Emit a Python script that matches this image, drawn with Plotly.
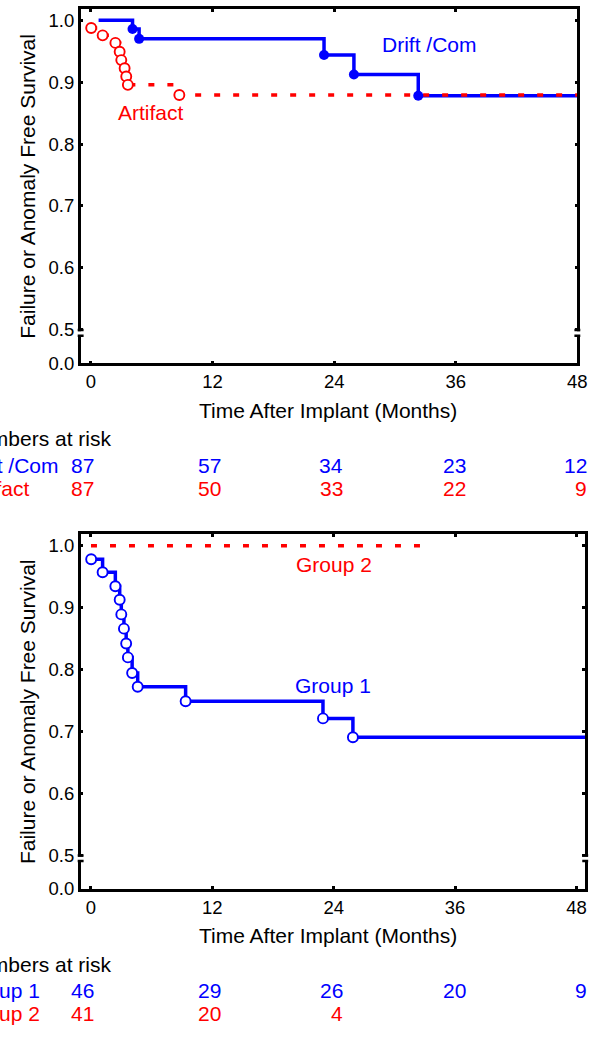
import plotly.graph_objects as go

W, H = 608, 1037
FONT = "Liberation Sans, Arial, Helvetica, sans-serif"
BLUE = "#0000FF"
RED = "#FF0000"

# ---------------- data ----------------
# Top panel: Drift /Com (solid blue, filled dots at events)
drift_start = 0.75
drift_event_t = [4.1, 4.75, 23.0, 25.95, 32.3]
drift_event_s = [0.986, 0.970, 0.944, 0.9125, 0.878]
# Top panel: Artifact (dotted red, open circles)
artifact_event_t = [0.02, 1.15, 2.41, 2.83, 2.99, 3.32, 3.48, 3.64, 8.72]
artifact_event_s = [0.9875, 0.9757, 0.9635, 0.9491, 0.9357, 0.9226, 0.9091, 0.8957, 0.8792]
top_end = 48.0

# Bottom panel: Group 1 (solid blue, open circles)
group1_event_t = [0.02, 1.15, 2.41, 2.84, 3.00, 3.26, 3.48, 3.65, 4.07, 4.62, 9.36, 22.94, 25.9]
group1_event_s = [0.978, 0.957, 0.9345, 0.9126, 0.889, 0.866, 0.842, 0.8195, 0.7944, 0.772, 0.7486, 0.721, 0.6906]
# Bottom panel: Group 2 (dotted red, no events)
group2_t = [0.0, 32.97]
group2_s = [1.0, 1.0]
bottom_end = 48.87

# Numbers at risk
risk_months = [0, 12, 24, 36, 48]
drift_risk = [87, 57, 34, 23, 12]
artifact_risk = [87, 50, 33, 22, 9]
group1_risk = [46, 29, 26, 20, 9]
group2_risk = [41, 20, 4]

x_ticks = [0, 12, 24, 36, 48]
y_tick_labels = ["0.0", "0.5", "0.6", "0.7", "0.8", "0.9", "1.0"]
y_tick_vals = [0.4456, 0.5, 0.6, 0.7, 0.8, 0.9, 1.0]   # 0.0 drawn below the axis break
y_range = [0.4456, 1.0184]

# ---------------- layout helpers ----------------
def px_x(p):
    return p / W

def px_y(p):
    return 1 - p / H

OFF = 530.5  # vertical offset of the second panel
panels = [
    dict(top=9, bottom=367, left=82, right=587, xr=[-1.02, 48.0]),
    dict(top=9 + OFF, bottom=367 + OFF, left=82, right=595, xr=[-1.02, 48.87]),
]

fig = go.Figure()

def step_line(t, s, end, xa, ya, color, dash, width=3.5):
    fig.add_trace(go.Scatter(
        x=list(t) + [end], y=list(s) + [s[-1]], mode="lines", line_shape="hv",
        line=dict(color=color, width=width, dash=dash),
        xaxis=xa, yaxis=ya, showlegend=False, hoverinfo="skip"))

def markers(t, s, xa, ya, color, filled):
    fig.add_trace(go.Scatter(
        x=t, y=s, mode="markers",
        marker=dict(size=10, color=color if filled else "white",
                    line=dict(color=color, width=0 if filled else 1.9), symbol="circle"),
        xaxis=xa, yaxis=ya, showlegend=False, hoverinfo="skip"))

# top panel
step_line([drift_start] + drift_event_t, [1.0] + drift_event_s, top_end, "x", "y", BLUE, "solid")
step_line(artifact_event_t, artifact_event_s, top_end, "x", "y", RED, "6px,13px")
markers(drift_event_t, drift_event_s, "x", "y", BLUE, True)
markers(artifact_event_t, artifact_event_s, "x", "y", RED, False)

# bottom panel
step_line(group1_event_t, group1_event_s, bottom_end, "x2", "y2", BLUE, "solid")
fig.add_trace(go.Scatter(x=group2_t, y=group2_s, mode="lines",
                         line=dict(color=RED, width=3.5, dash="6px,13px"),
                         xaxis="x2", yaxis="y2", showlegend=False, hoverinfo="skip"))
markers(group1_event_t, group1_event_s, "x2", "y2", BLUE, False)

axis_common = dict(showline=True, linewidth=2.5, linecolor="black", mirror="ticks",
                   ticks="inside", ticklen=3, tickwidth=2.5, tickcolor="black",
                   showgrid=False, zeroline=False,
                   tickfont=dict(family=FONT, size=18.5, color="black"))

layout = dict(width=W, height=H, margin=dict(l=0, r=0, t=0, b=0), autosize=False,
              paper_bgcolor="white", plot_bgcolor="white", showlegend=False)

shapes = []
annotations = []
for i, p in enumerate(panels):
    sfx = "" if i == 0 else str(i + 1)
    layout["xaxis" + sfx] = dict(axis_common, domain=[px_x(p["left"]), px_x(p["right"])],
                                 range=p["xr"], tickvals=x_ticks, anchor="y" + sfx)
    layout["yaxis" + sfx] = dict(axis_common, domain=[px_y(p["bottom"]), px_y(p["top"])],
                                 range=y_range, tickvals=y_tick_vals, ticktext=y_tick_labels,
                                 anchor="x" + sfx)
    # axis break marks at 0.5 on both vertical sides
    for xe in (p["left"], p["right"]):
        shapes.append(dict(type="rect", xref="paper", yref="y" + sfx,
                           x0=px_x(xe - 4), x1=px_x(xe + 4), y0=0.4915, y1=0.4975,
                           fillcolor="white", line=dict(width=0), layer="above"))
        for yv in (0.4995, 0.4905):
            shapes.append(dict(type="line", xref="paper", yref="y" + sfx,
                               x0=px_x(xe - 3), x1=px_x(xe + 3), y0=yv, y1=yv,
                               line=dict(color="black", width=2.5), layer="above"))
    dy = 0 if i == 0 else OFF
    annotations.append(dict(text="Failure or Anomaly Free Survival", textangle=-90,
                            x=px_x(28), y=px_y(188 + dy), xref="paper", yref="paper",
                            xanchor="center", yanchor="middle", showarrow=False,
                            font=dict(family=FONT, size=21, color="black")))
    annotations.append(dict(text="Time After Implant (Months)",
                            x=px_x(333), y=px_y(414 + dy), xref="paper", yref="paper",
                            xanchor="center", yanchor="middle", showarrow=False,
                            font=dict(family=FONT, size=21, color="black")))
    annotations.append(dict(text="Numbers at risk", x=px_x(-38.5), y=px_y(443 + dy),
                            xref="paper", yref="paper", xanchor="left", yanchor="middle",
                            showarrow=False, font=dict(family=FONT, size=21, color="black")))

# numbers-at-risk tables
col_right_px = [98, 227, 351, 476, 599]
tables = [
    (0, [("Drift /Com", drift_risk, BLUE), ("Artifact", artifact_risk, RED)]),
    (OFF, [("Group 1", group1_risk, BLUE), ("Group 2", group2_risk, RED)]),
]
for dy, rows in tables:
    for r, (name, vals, col) in enumerate(rows):
        yy = 470 + 23 * r + dy
        annotations.append(dict(text=name, x=px_x(-38.5), y=px_y(yy), xref="paper", yref="paper",
                                xanchor="left", yanchor="middle", showarrow=False,
                                font=dict(family=FONT, size=21, color=col)))
        for k, v in enumerate(vals):
            annotations.append(dict(text=str(v), x=px_x(col_right_px[k]), y=px_y(yy),
                                    xref="paper", yref="paper", xanchor="right",
                                    yanchor="middle", showarrow=False,
                                    font=dict(family=FONT, size=21, color=col)))

# curve labels
curve_labels = [("Drift /Com", 437, 45, BLUE), ("Artifact", 154, 114, RED),
                ("Group 2", 339.5, 570.5, RED), ("Group 1", 339, 692, BLUE)]
for txt, cx, cy, col in curve_labels:
    annotations.append(dict(text=txt, x=px_x(cx), y=px_y(cy), xref="paper", yref="paper",
                            xanchor="center", yanchor="middle", showarrow=False,
                            font=dict(family=FONT, size=21, color=col)))

layout["shapes"] = shapes
layout["annotations"] = annotations
fig.update_layout(**layout)
fig.write_html("out.html")
